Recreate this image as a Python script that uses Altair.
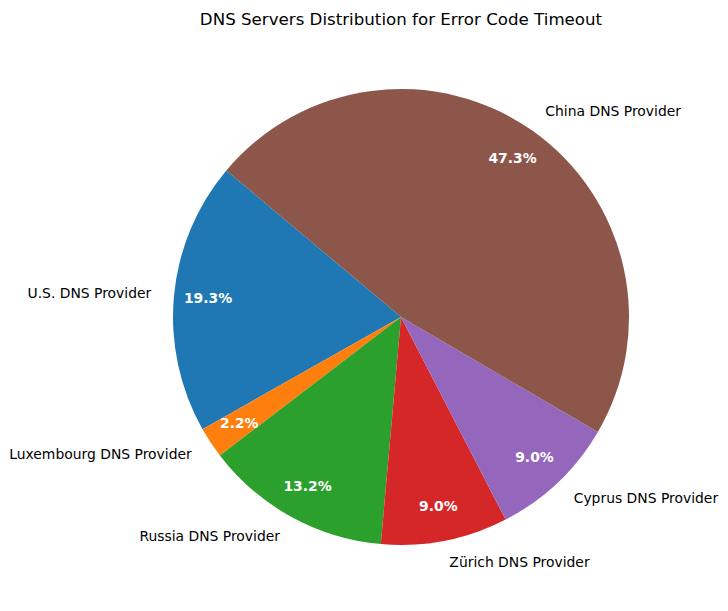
import math
import altair as alt
import pandas as pd

labels = ["U.S. DNS Provider", "Luxembourg DNS Provider", "Russia DNS Provider",
          "Zürich DNS Provider", "Cyprus DNS Provider", "China DNS Provider"]
shares = [19.3, 2.2, 13.2, 9.0, 9.0, 47.3]
colors = ["#1f77b4", "#ff7f0e", "#2ca02c", "#d62728", "#9467bd", "#8c564b"]

df = pd.DataFrame({"label": labels, "share": shares, "seq": list(range(len(labels)))})

START = math.radians(90 - 140)  # matplotlib startangle=140, counter-clockwise
R = 228
CX, CY = 401, 277

theta_scale = alt.Scale(domain=[0, 100], range=[START, START + 2 * math.pi])
color_scale = alt.Scale(domain=labels, range=colors)

base = alt.Chart(df).transform_window(
    cum="sum(share)", sort=[alt.SortField("seq", order="descending")]
).transform_calculate(
    start="datum.cum - datum.share",
    mid="datum.cum - datum.share / 2",
    pct="format(datum.share, '.1f') + '%'",
    side=f"sin({START} + datum.mid / 100 * 2 * PI) >= 0 ? 'R' : 'L'",
)

arcs = base.mark_arc(outerRadius=R, stroke=None).encode(
    theta=alt.Theta("start:Q", scale=theta_scale),
    theta2="cum:Q",
    color=alt.Color("label:N", scale=color_scale, legend=None),
    x=alt.value(CX),
    y=alt.value(CY),
)

pct = base.mark_text(radius=0.85 * R, font="DejaVu Sans", fontSize=13.9,
                     fontWeight="bold", color="white", baseline="middle",
                     align="center").encode(
    theta=alt.Theta("mid:Q", scale=theta_scale),
    text="pct:N",
    x=alt.value(CX),
    y=alt.value(CY),
)

right_lbl = base.transform_filter("datum.side == 'R'").mark_text(
    radius=1.1 * R, font="DejaVu Sans", fontSize=13.9, color="black",
    baseline="middle", align="left").encode(
    theta=alt.Theta("mid:Q", scale=theta_scale),
    text="label:N",
    x=alt.value(CX),
    y=alt.value(CY),
)

left_lbl = base.transform_filter("datum.side == 'L'").mark_text(
    radius=1.1 * R, font="DejaVu Sans", fontSize=13.9, color="black",
    baseline="middle", align="right").encode(
    theta=alt.Theta("mid:Q", scale=theta_scale),
    text="label:N",
    x=alt.value(CX),
    y=alt.value(CY),
)

chart = alt.layer(arcs, pct, right_lbl, left_lbl).properties(
    width=728,
    height=571,
    padding={"left": 0, "top": 40, "right": 0, "bottom": 0},
    autosize=alt.AutoSizeParams(type="none"),
    title=alt.TitleParams(
        "DNS Servers Distribution for Error Code Timeout",
        font="DejaVu Sans", fontSize=16.67, fontWeight="normal", color="black",
        anchor="middle", dx=37, offset=-2, baseline="alphabetic",
    ),
).configure_view(stroke=None)

chart.save("out.html", embed_options={"renderer": "svg", "actions": False})
